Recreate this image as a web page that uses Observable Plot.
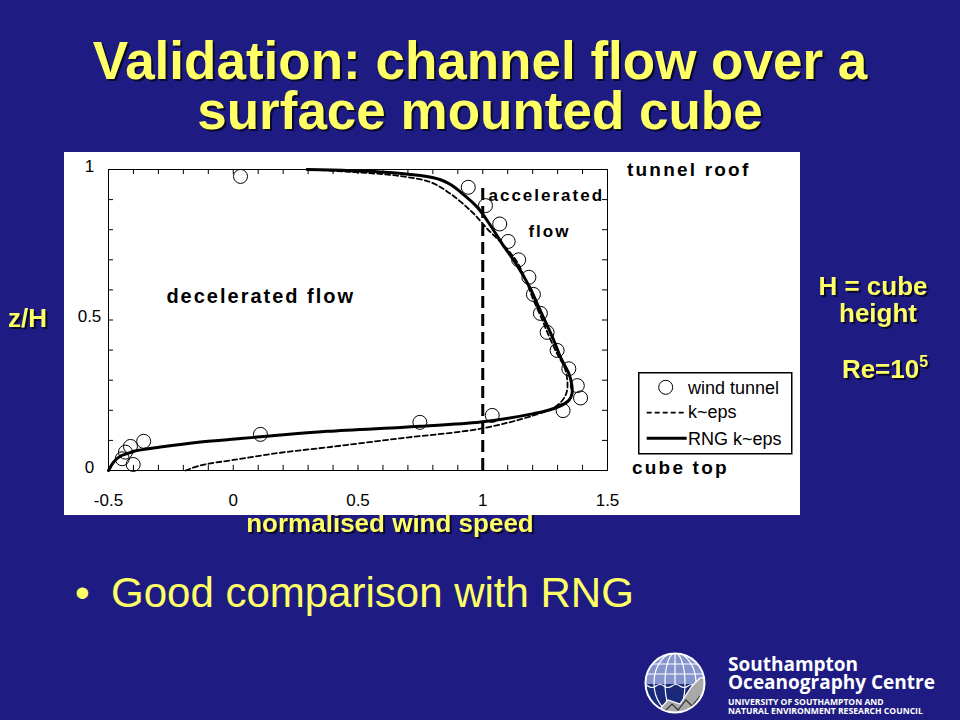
<!DOCTYPE html>
<html><head><meta charset="utf-8">
<script src="https://cdn.jsdelivr.net/npm/d3@7"></script>
<script src="https://cdn.jsdelivr.net/npm/@observablehq/plot@0.6"></script>
<style>
body{margin:0;background:#1e1c82;}
#slide{position:relative;width:960px;height:720px;overflow:hidden;background:#1e1c82;font-family:"Liberation Sans",Arial,sans-serif;}
#bg,#fg{position:absolute;left:0;top:0;}
#fg{pointer-events:none;}
#plot{position:absolute;left:64px;top:152px;width:736px;height:363px;}
.yel{fill:#ffff66;font-weight:bold;filter:drop-shadow(2px 2px 0 #0a0a30);}
</style></head><body>
<div id="slide">
<svg id="bg" width="960" height="720" font-family="Liberation Sans, Arial, sans-serif">
  <g font-size="53" text-anchor="middle">
    <text class="yel" x="480" y="79">Validation: channel flow over a</text>
    <text class="yel" x="480" y="129">surface mounted cube</text>
  </g>
  <g font-size="26">
    <text class="yel" x="8" y="327">z/H</text>
    <text class="yel" x="390" y="532" text-anchor="middle">normalised wind speed</text>
    <g text-anchor="middle">
      <text class="yel" x="873" y="295">H = cube</text>
      <text class="yel" x="878" y="322">height</text>
      <text class="yel" x="885" y="378">Re=10<tspan font-size="16" dy="-11">5</tspan></text>
    </g>
  </g>
  <text x="75" y="607" font-size="42" fill="#ffff66">•</text>
  <text x="111" y="607" font-size="42" fill="#ffff66">Good comparison with RNG</text>
  <!-- logo -->
  <defs><clipPath id="globe"><circle cx="675" cy="683" r="29"/></clipPath></defs>
  <g clip-path="url(#globe)">
    <rect x="640" y="650" width="70" height="70" fill="#8795cf"/>
    <rect x="640" y="684" width="70" height="40" fill="#1b2a78"/>
    <g stroke="#ffffff" stroke-width="1.2" fill="none">
      <line x1="640" y1="664" x2="710" y2="664"/>
      <line x1="640" y1="674" x2="710" y2="674"/>
      <ellipse cx="675" cy="683" rx="10" ry="30"/>
      <ellipse cx="675" cy="683" rx="21" ry="30"/>
      <line x1="675" y1="650" x2="675" y2="684"/>
      <path d="M640 686 q4 -3 8 0 t8 0 t8 0 t8 0 t8 0 t8 0 t8 0 t8 0 t8 0"/>
    </g>
    <polygon points="650,720 668,700 680,704 692,686 700,678 712,676 712,720" fill="#a9a9a9" stroke="#ffffff" stroke-width="1.2"/>
    <path d="M664 712 l8 -8 l6 6 l8 -10 l6 6 l8 -10" stroke="#333" stroke-width="1.2" fill="none"/>
  </g>
  <circle cx="675" cy="683" r="29.5" fill="none" stroke="#ffffff" stroke-width="2"/>
  <g fill="#ffffff" font-family="Open Sans, Liberation Sans, sans-serif" font-weight="bold">
    <text x="728" y="671" font-size="19">Southampton</text>
    <text x="728" y="689" font-size="19">Oceanography Centre</text>
    <text x="728" y="705" font-size="8.6">UNIVERSITY OF SOUTHAMPTON AND</text>
    <text x="728" y="714" font-size="8.6">NATURAL ENVIRONMENT RESEARCH COUNCIL</text>
  </g>
</svg>
<div id="plot"></div>
<svg id="fg" width="960" height="720" font-family="Liberation Sans, Arial, sans-serif">
  <g font-weight="bold" font-size="19" letter-spacing="2.2" fill="black">
    <text x="627" y="176">tunnel roof</text>
    <text x="632" y="474">cube top</text>
  </g>
  <g transform="translate(638,372)" font-size="18" fill="black">
    <rect x="0.75" y="0.75" width="153" height="81" fill="white" stroke="black" stroke-width="1.5"/>
    <circle cx="27.7" cy="15.3" r="7" fill="none" stroke="black" stroke-width="1"/>
    <text x="50" y="22">wind tunnel</text>
    <line x1="8.7" x2="48.7" y1="40.7" y2="40.7" stroke="black" stroke-width="1.8" stroke-dasharray="5,3"/>
    <text x="50" y="46">k~eps</text>
    <line x1="8.7" x2="48.7" y1="66.3" y2="66.3" stroke="black" stroke-width="3"/>
    <text x="50" y="73">RNG k~eps</text>
  </g>
</svg>
</div>
<script>
// wind tunnel measurements (normalised wind speed u, height z/H)
const windU = [0.029, 0.942, 1.011, 1.068, 1.102, 1.144, 1.185, 1.203, 1.231, 1.258, 1.298, 1.345, 1.379, 1.392, 1.322, 1.038, 0.748, 0.109, -0.359, -0.412, -0.432, -0.445, -0.401];
const windZ = [0.977, 0.941, 0.880, 0.819, 0.761, 0.700, 0.642, 0.585, 0.522, 0.459, 0.399, 0.338, 0.282, 0.241, 0.199, 0.183, 0.160, 0.120, 0.097, 0.080, 0.061, 0.039, 0.020];
// RNG k~eps profile
const rngU = [-0.5, -0.479, -0.452, -0.425, -0.399, -0.292, -0.131, 0.029, 0.109, 0.189, 0.377, 0.670, 0.750, 0.991, 1.203, 1.298, 1.345, 1.358, 1.356, 1.345, 1.312, 1.285, 1.252, 1.218, 1.191, 1.138, 1.078, 1.031, 0.978, 0.911, 0.871, 0.831, 0.750, 0.590, 0.296];
const rngZ = [0, 0.028, 0.048, 0.056, 0.064, 0.078, 0.095, 0.106, 0.112, 0.118, 0.130, 0.143, 0.147, 0.161, 0.189, 0.210, 0.233, 0.256, 0.289, 0.322, 0.376, 0.432, 0.493, 0.554, 0.604, 0.681, 0.753, 0.814, 0.875, 0.925, 0.950, 0.966, 0.980, 0.992, 1.0];
// standard k~eps profile
const kepsU = [-0.191, -0.131, 0.0, 0.189, 0.377, 0.670, 0.991, 1.203, 1.298, 1.336, 1.332, 1.298, 1.264, 1.231, 1.199, 1.178, 1.138, 1.084, 1.018, 0.958, 0.871, 0.791, 0.670, 0.510, 0.296];
const kepsZ = [0, 0.017, 0.035, 0.059, 0.077, 0.107, 0.139, 0.183, 0.216, 0.259, 0.332, 0.388, 0.449, 0.515, 0.575, 0.621, 0.692, 0.748, 0.803, 0.858, 0.919, 0.958, 0.978, 0.990, 1.0];
// reference line u = 1 (free-stream)
const refU = [1];
const refZTop = 0.94;
// tick values and labels
const xLabelVals = [-0.5, 0, 0.5, 1, 1.5];
const yLabelVals = [0, 0.5, 1];
const xMinor = [-0.5,-0.4,-0.3,-0.2,-0.1,0,0.1,0.2,0.3,0.4,0.5,0.6,0.7,0.8,0.9,1,1.1,1.2,1.3,1.4,1.5];
const yMinor = [0,0.1,0.2,0.3,0.4,0.5,0.6,0.7,0.8,0.9,1];
// annotations inside plot
const noteText = ["decelerated flow", "accelerated", "flow"];
const noteU = [-0.268, 1.023, 1.183];
const noteZ = [0.558, 0.897, 0.775];
const noteSize = [20, 17, 17];

const wind = windU.map((u, i) => ({u, z: windZ[i]}));
const rng = rngU.map((u, i) => ({u, z: rngZ[i]}));
const keps = kepsU.map((u, i) => ({u, z: kepsZ[i]}));
const notes = noteText.map((t, i) => ({t, u: noteU[i], z: noteZ[i], s: noteSize[i]}));

const tickX = 0.02, tickY = 0.017;

const plot = Plot.plot({
  width: 736, height: 363,
  marginLeft: 44, marginRight: 193, marginTop: 17, marginBottom: 45,
  x: {domain: [-0.5, 1.5]},
  y: {domain: [0, 1]},
  style: {background: "white", fontFamily: "Liberation Sans, Arial, sans-serif", color: "black", overflow: "visible"},
  marks: [
    Plot.axisX(xLabelVals, {tickSize: 0, tickPadding: 23, fontSize: 17, tickFormat: d => String(d), label: null}),
    Plot.axisY(yLabelVals, {tickSize: 0, tickPadding: 19, textAnchor: "middle", fontSize: 17, dy: -3, tickFormat: d => String(d), label: null}),
    Plot.ruleX(xMinor, {x: d => d, y1: 0, y2: tickY, stroke: "black"}),
    Plot.ruleX(xMinor, {x: d => d, y1: 1 - tickY, y2: 1, stroke: "black"}),
    Plot.ruleY(yMinor, {y: d => d, x1: -0.5, x2: -0.5 + tickX, stroke: "black"}),
    Plot.ruleY(yMinor, {y: d => d, x1: 1.5 - tickX, x2: 1.5, stroke: "black"}),
    Plot.frame({stroke: "black", strokeWidth: 1}),
    Plot.ruleX(refU, {x: d => d, y1: 0, y2: refZTop, stroke: "black", strokeWidth: 3, strokeDasharray: "12,6"}),
    Plot.line(keps, {x: "u", y: "z", stroke: "black", strokeWidth: 1.8, strokeDasharray: "5,3", curve: "catmull-rom"}),
    Plot.line(rng, {x: "u", y: "z", stroke: "black", strokeWidth: 3, curve: "catmull-rom"}),
    Plot.dot(wind, {x: "u", y: "z", r: 7, stroke: "black", strokeWidth: 1, fill: "none"}),
    Plot.text(notes, {x: "u", y: "z", text: "t", fontSize: "s", textAnchor: "start", lineAnchor: "bottom", fontWeight: "bold", fill: "black"})
  ]
});
document.getElementById("plot").appendChild(plot);
d3.select(plot).selectAll("text").filter(function(){ return noteText.includes(this.textContent); }).attr("letter-spacing", 2);
</script>
</body></html>
